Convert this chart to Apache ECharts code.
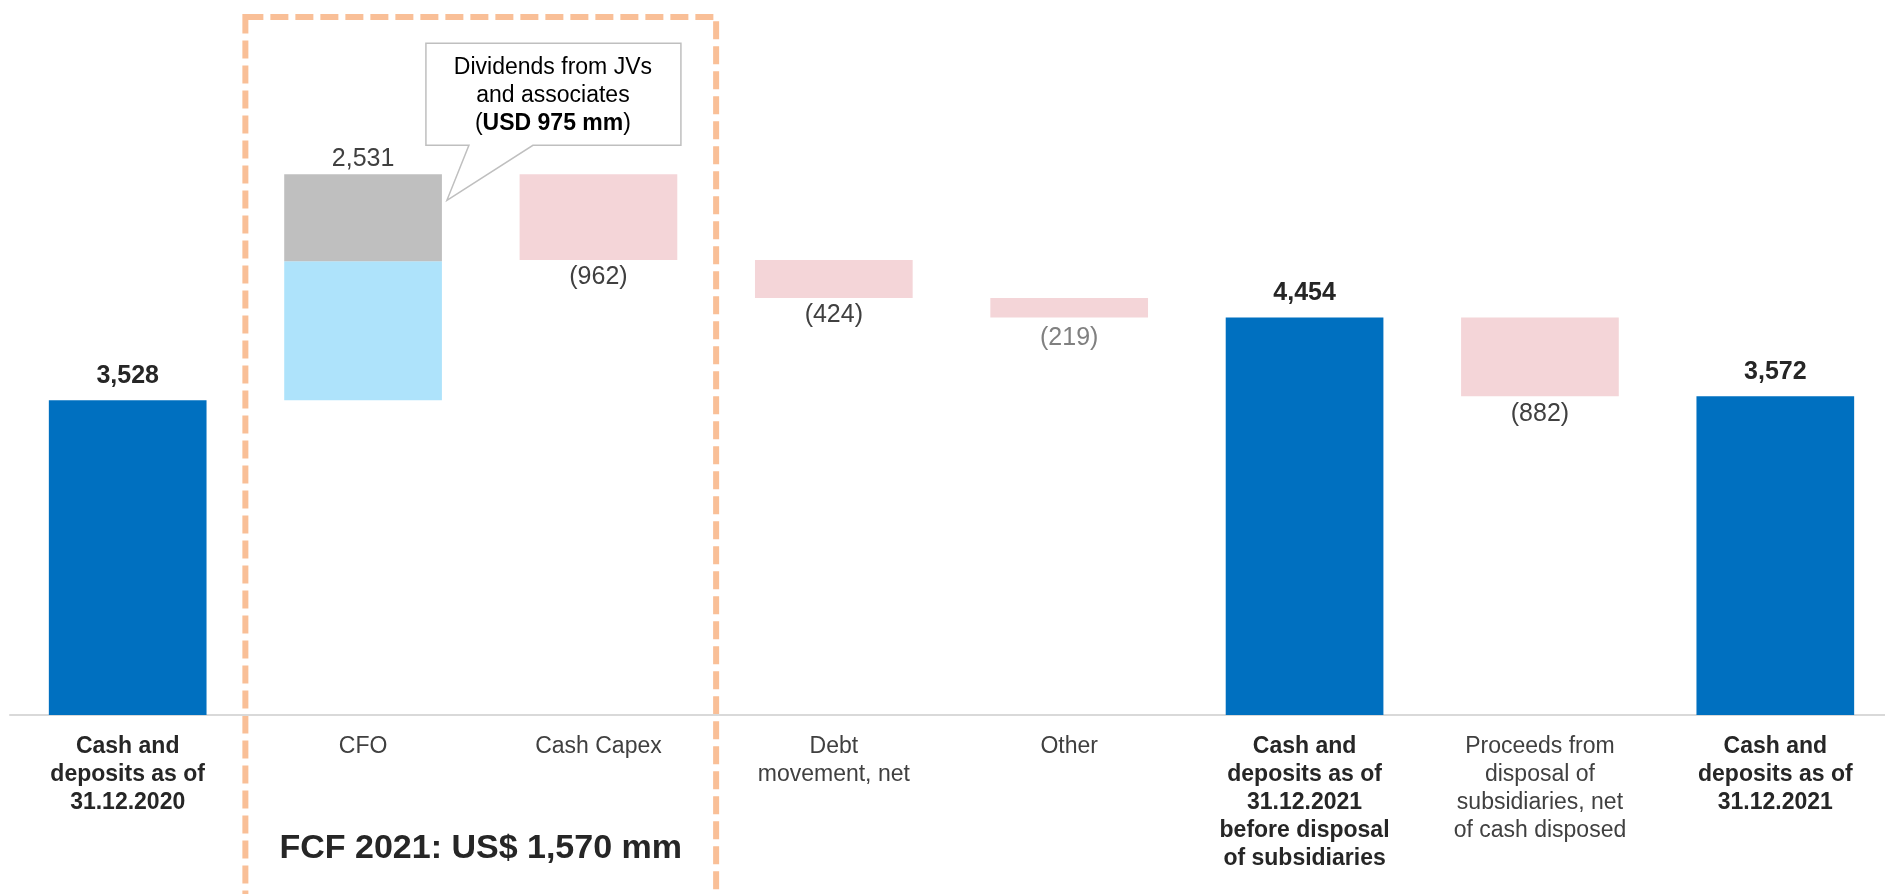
<!DOCTYPE html>
<html>
<head>
<meta charset="utf-8">
<title>Cash bridge 2021</title>
<script src="https://cdn.jsdelivr.net/npm/echarts@6/dist/echarts.min.js"></script>
<style>
    html, body { margin: 0; padding: 0; background: #fff; }
    #chart { width: 1885px; height: 894px; }
</style>
</head>
<body>
<div id="chart"></div>
<script>
let categories = [
    'Cash and\ndeposits as of\n31.12.2020',
    'CFO',
    'Cash Capex',
    'Debt\nmovement, net',
    'Other',
    'Cash and\ndeposits as of\n31.12.2021\nbefore disposal\nof subsidiaries',
    'Proceeds from\ndisposal of\nsubsidiaries, net\nof cash disposed',
    'Cash and\ndeposits as of\n31.12.2021'
];
let boldCategories = [0, 5, 7];
let totalValues    = [3528, '-', '-', '-', '-', 4454, '-', 3572];
let cfoCoreValues  = ['-', 1556, '-', '-', '-', '-', '-', '-'];   // CFO without JV dividends
let dividendValues = ['-', 975, '-', '-', '-', '-', '-', '-'];    // dividends from JVs and associates
let outflowValues  = ['-', '-', 962, 424, 219, '-', 882, '-'];
let fcfLabel = 'FCF 2021: US$ 1,570 mm';

let font = '"Liberation Sans", Arial, sans-serif';
let fmt = v => Number(v).toLocaleString('en-US');

// invisible base of the waterfall
let baseValues = [];
let level = 0;
categories.forEach((c, i) => {
    if (totalValues[i] !== '-') {
        baseValues.push(0);
        level = totalValues[i];
    } else if (cfoCoreValues[i] !== '-') {
        baseValues.push(level);
        level += cfoCoreValues[i] + dividendValues[i];
    } else {
        level -= outflowValues[i];
        baseValues.push(level);
    }
});

let option = {
    animation: false,
    textStyle: { fontFamily: font },
    grid: {
        left: 10,
        width: 1883,
        top: 1,
        bottom: 179,
        containLabel: false,
        outerBoundsMode: 'none'
    },
    xAxis: {
        type: 'category',
        data: categories.map((c, i) => boldCategories.includes(i)
            ? { value: c, textStyle: { fontWeight: 'bold', color: '#262626' } }
            : c),
        axisTick: { show: false },
        axisLine: { lineStyle: { color: '#D9D9D9', width: 2 } },
        axisLabel: {
            interval: 0,
            margin: 18,
            fontSize: 23,
            lineHeight: 28,
            color: '#404040',
            fontFamily: font
        }
    },
    yAxis: {
        type: 'value',
        min: 0,
        max: 8000,
        show: false,
        splitLine: { show: false }
    },
    series: [
        {
            name: 'base',
            type: 'bar',
            stack: 'bridge',
            barWidth: '67%',
            silent: true,
            itemStyle: { color: 'rgba(0,0,0,0)' },
            data: baseValues
        },
        {
            name: 'total',
            type: 'bar',
            stack: 'bridge',
            itemStyle: { color: '#0070C0' },
            label: {
                show: true,
                position: 'top',
                distance: 12,
                fontSize: 25,
                fontWeight: 'bold',
                color: '#262626',
                formatter: p => fmt(p.value)
            },
            data: totalValues
        },
        {
            name: 'cfo',
            type: 'bar',
            stack: 'bridge',
            itemStyle: { color: '#AEE3FB' },
            data: cfoCoreValues
        },
        {
            name: 'dividends',
            type: 'bar',
            stack: 'bridge',
            itemStyle: { color: '#BFBFBF' },
            label: {
                show: true,
                position: 'top',
                distance: 3,
                fontSize: 25,
                color: '#404040',
                formatter: p => fmt(cfoCoreValues[p.dataIndex] + p.value)
            },
            data: dividendValues
        },
        {
            name: 'outflow',
            type: 'bar',
            stack: 'bridge',
            itemStyle: { color: '#F4D5D8' },
            label: {
                show: true,
                position: 'bottom',
                distance: 5,
                fontSize: 25,
                color: '#404040',
                formatter: p => '(' + fmt(p.value) + ')'
            },
            data: outflowValues.map((v, i) => i === 4
                ? { value: v, label: { color: '#808080', distance: 8 } }
                : v)
        }
    ]
};

let chart = echarts.init(document.getElementById('chart'), null, { renderer: 'canvas' });
chart.setOption(option);

// annotations tied to the CFO / Capex columns
let px = (i, v) => chart.convertToPixel({ gridIndex: 0 }, [i, v]);
let band = px(2, 0)[0] - px(1, 0)[0];
let boxLeft = px(1, 0)[0] - band / 2;
let boxRight = px(2, 0)[0] + band / 2;
let axisY = px(0, 0)[1];

let cfoTop = baseValues[1] + cfoCoreValues[1] + dividendValues[1];
let tip = px(1, cfoTop - dividendValues[1] * 0.3);
let tx = tip[0] + band * 0.67 / 2 + 5;
let ty = tip[1];

chart.setOption({
    graphic: [
        {
            type: 'rect',
            shape: { x: boxLeft, y: 17, width: boxRight - boxLeft, height: 1000 },
            style: { fill: 'none', stroke: '#F9BF97', lineWidth: 6, lineDash: [18, 7] },
            silent: true
        },
        {
            type: 'polygon',
            shape: {
                points: [
                    [tx - 21, ty - 157], [tx + 234, ty - 157], [tx + 234, ty - 55],
                    [tx + 86, ty - 55], [tx, ty], [tx + 22, ty - 55], [tx - 21, ty - 55]
                ]
            },
            style: { fill: '#fff', stroke: '#BFBFBF', lineWidth: 1.5 },
            silent: true
        },
        {
            type: 'text',
            x: tx + 106,
            y: ty - 105,
            style: {
                text: '{n|Dividends from JVs}\n{n|and associates}\n{n|(}{b|USD ' + fmt(dividendValues[1]) + ' mm}{n|)}',
                align: 'center',
                verticalAlign: 'middle',
                rich: {
                    n: { fontSize: 23, lineHeight: 28, color: '#262626', fontFamily: font },
                    b: { fontSize: 23, lineHeight: 28, color: '#262626', fontWeight: 'bold', fontFamily: font }
                }
            },
            silent: true
        },
        {
            type: 'text',
            x: (boxLeft + boxRight) / 2,
            y: axisY + 134,
            style: {
                text: fcfLabel,
                align: 'center',
                verticalAlign: 'middle',
                fontSize: 34,
                fontWeight: 'bold',
                fill: '#262626',
                fontFamily: font
            },
            silent: true
        }
    ]
});
</script>
</body>
</html>
